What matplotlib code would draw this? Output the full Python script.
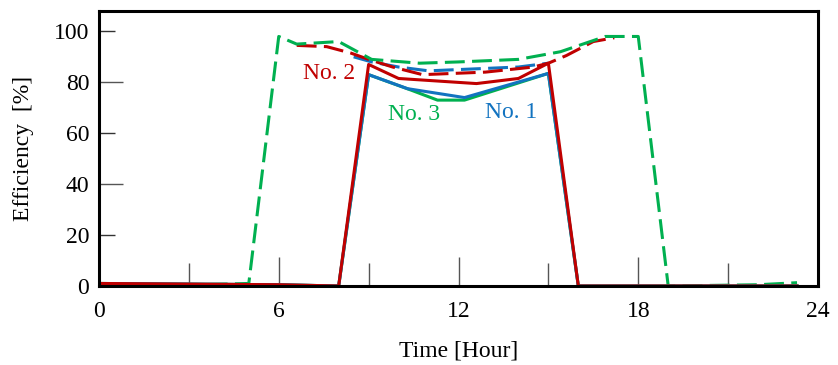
import matplotlib
matplotlib.use("Agg")
import matplotlib.pyplot as plt

# solid lines (No. 1 / No. 2 / No. 3)
t1 = [0, 6, 8, 9, 10.3, 12.2, 15, 16, 23.3]
no1 = [1, 0.5, 0, 83, 77.5, 74, 83.5, 0, 0]
t2 = [0, 6, 8, 9, 10, 12.6, 14, 15, 16, 23.3]
no2 = [1, 0.5, 0, 87, 81.5, 79.5, 81.5, 87.5, 0, 0]
t3 = [0, 6, 8, 9, 10.4, 11.3, 12.2, 15, 16, 23.3]
no3 = [1, 0.5, 0, 83, 77, 73, 73, 83.5, 0, 0]

# dashed lines
td3 = [0, 5, 6, 6.6, 8, 9.1, 10.7, 12, 14, 15.4, 16.9, 18, 19, 22, 23.3]
d3 = [-0.5, 1, 98, 95, 96, 89, 87.5, 88, 89, 92, 98, 98, 0, 0.5, 1.3]
td2 = [6.6, 7.6, 8.4, 9, 9.8, 10.8, 12.9, 14.5, 15, 15.6, 16.5, 17.2]
d2 = [94.5, 94, 91.5, 89, 86, 83, 84, 86, 87.5, 90.5, 96, 97.5]
td2b = [16, 19, 23.3]
d2b = [0, 0, 0]
td1 = [8.5, 9.1, 10, 11, 12, 14, 15]
d1 = [90, 88, 86, 84.5, 85, 86, 87.5]

yticks_long = [0, 40, 80]
yticks_short = [20, 60, 100]
xticks_long = [0, 6, 12, 18, 24]
xticks_short = [3, 9, 15, 21]

blue, red, green = "#1273c0", "#c00000", "#00b050"

plt.rcParams["font.family"] = ["Liberation Serif", "DejaVu Serif"]
plt.rcParams["font.size"] = 17

fig = plt.figure(figsize=(8.38, 3.65), dpi=100)
ax = fig.add_axes([99 / 838, 1 - 286 / 365, 719 / 838, 275 / 365])

dash = (0, (6.5, 2.4))
ax.plot(td1, d1, color=blue, lw=2.2, ls=dash)
ax.plot(td2, d2, color=red, lw=2.2, ls=dash)
ax.plot(td2b, d2b, color=red, lw=2.2, ls=dash)
ax.plot(td3, d3, color=green, lw=2.2, ls=dash)
ax.plot(t3, no3, color=green, lw=2.2)
ax.plot(t1, no1, color=blue, lw=2.2)
ax.plot(t2, no2, color=red, lw=2.2)

ax.text(8.55, 83.3, "No. 2", color=red, ha="right", va="center")
ax.text(10.5, 67.3, "No. 3", color=green, ha="center", va="center")
ax.text(13.75, 68, "No. 1", color=blue, ha="center", va="center")

ax.set_xlim(0, 24)
ax.set_ylim(0, 108)
ax.set_xticks(xticks_long)
ax.set_xticks(xticks_short, minor=True)
ax.set_yticks(yticks_long)
ax.set_yticks(yticks_short, labels=[str(v) for v in yticks_short], minor=True)
ax.tick_params(axis="x", which="major", direction="in", length=21, width=1, color="#555555", pad=11)
ax.tick_params(axis="x", which="minor", direction="in", length=16.5, width=1, color="#555555")
ax.tick_params(axis="y", which="major", direction="in", length=17, width=1, color="#555555", pad=7)
ax.tick_params(axis="y", which="minor", direction="in", length=11.5, width=1, color="#333333", pad=7)
ax.tick_params(top=False, right=False, which="both")
for s in ax.spines.values():
    s.set_linewidth(2.2)
ax.set_xlabel("Time [Hour]", labelpad=13)
ax.set_ylabel("Efficiency  [%]", labelpad=14)

fig.savefig("out.png", dpi=100)
